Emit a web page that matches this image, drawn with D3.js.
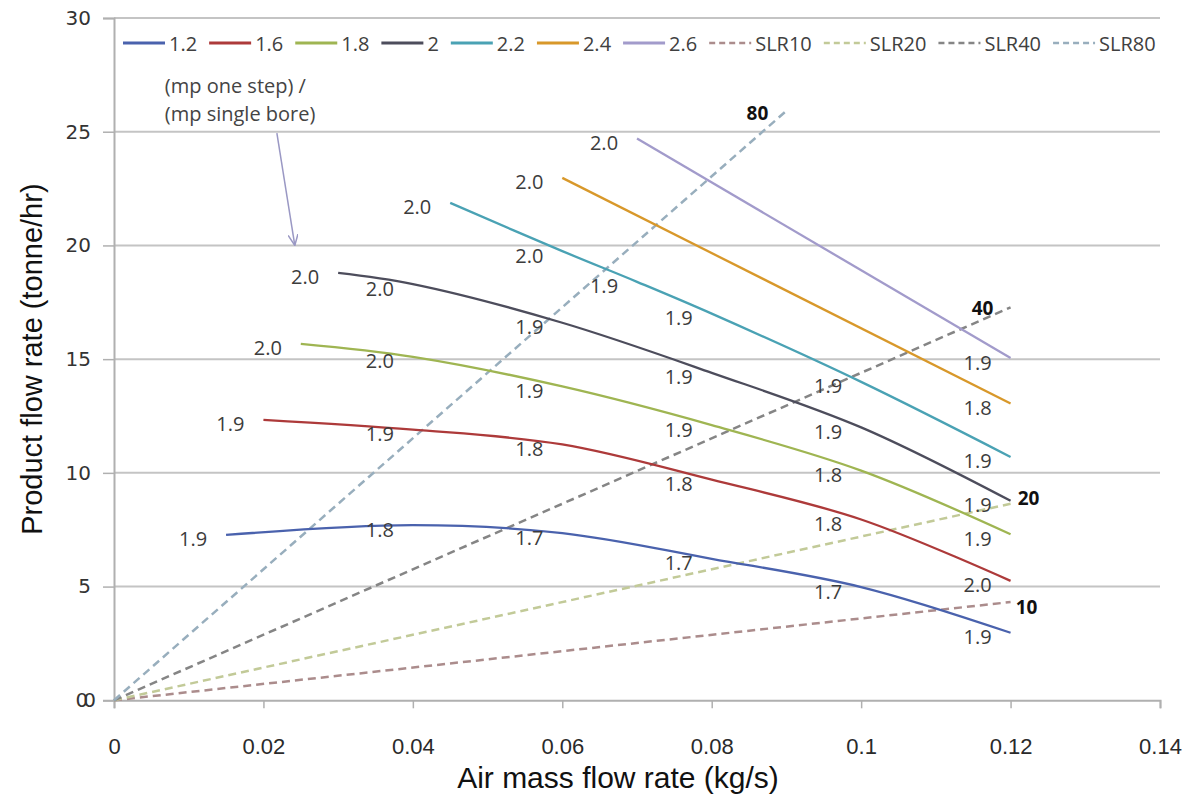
<!DOCTYPE html>
<html>
<head>
<meta charset="utf-8">
<script src="https://cdn.jsdelivr.net/npm/d3@7"></script>
<style>
  body { margin: 0; background: #fff; }
  svg { display: block; }
</style>
</head>
<body>
<div id="chart"></div>
<script>
// Air flow (kg/s), product flow (tonne/hr) and data labels for each ratio curve
const air12 = [0.015, 0.04, 0.06, 0.08, 0.1, 0.12];
const prod12 = [7.27, 7.7, 7.35, 6.22, 4.98, 2.97];
const lab12 = ['1.9', '1.8', '1.7', '1.7', '1.7', '1.9'];

const air16 = [0.02, 0.04, 0.06, 0.08, 0.1, 0.12];
const prod16 = [12.33, 11.9, 11.25, 9.7, 7.95, 5.25];
const lab16 = ['1.9', '1.9', '1.8', '1.8', '1.8', '2.0'];

const air18 = [0.025, 0.04, 0.06, 0.08, 0.1, 0.12];
const prod18 = [15.67, 15.1, 13.8, 12.1, 10.1, 7.3];
const lab18 = ['2.0', '2.0', '1.9', '1.9', '1.8', '1.9'];

const air20 = [0.03, 0.04, 0.06, 0.08, 0.1, 0.12];
const prod20 = [18.79, 18.3, 16.6, 14.4, 12.0, 8.77];
const lab20 = ['2.0', '2.0', '1.9', '1.9', '1.9', '1.9'];

const air22 = [0.045, 0.06, 0.07, 0.08, 0.1, 0.12];
const prod22 = [21.87, 19.75, 18.4, 17.0, 14.0, 10.7];
const lab22 = ['2.0', '2.0', '1.9', '1.9', '1.9', '1.9'];

const air24 = [0.06, 0.12];
const prod24 = [22.97, 13.05];
const lab24 = ['2.0', '1.8'];

const air26 = [0.07, 0.12];
const prod26 = [24.7, 15.05];
const lab26 = ['2.0', '1.9'];

// solids loading ratio lines (from origin)
const slrNames = ['SLR10', 'SLR20', 'SLR40', 'SLR80'];
const slrTags = ['10', '20', '40', '80'];
const slrAir = [[0, 0.12], [0, 0.12], [0, 0.12], [0, 0.09]];
const slrProd = [[0, 4.32], [0, 8.64], [0, 17.28], [0, 25.92]];

const xTicks = [0, 0.02, 0.04, 0.06, 0.08, 0.1, 0.12, 0.14];
const yTicks = [0, 5, 10, 15, 20, 25, 30];

const curves = [
  { name: '1.2', x: air12, y: prod12, lab: lab12, color: '#4a62ad' },
  { name: '1.6', x: air16, y: prod16, lab: lab16, color: '#ad3a3a' },
  { name: '1.8', x: air18, y: prod18, lab: lab18, color: '#9fb552' },
  { name: '2', x: air20, y: prod20, lab: lab20, color: '#4d4d5c' },
  { name: '2.2', x: air22, y: prod22, lab: lab22, color: '#4aa2b4' },
  { name: '2.4', x: air24, y: prod24, lab: lab24, color: '#d8982a' },
  { name: '2.6', x: air26, y: prod26, lab: lab26, color: '#a29bcb' }
];
const slrColors = ['#ab8c8c', '#c2ca98', '#858585', '#98aebd'];
const slrTagOffset = [[16, 5], [18, -6], [-28, 1], [-29, 2]];

const width = 1190, height = 801;
const svg = d3.select('#chart').append('svg')
  .attr('width', width).attr('height', height);

const x = d3.scaleLinear().domain([0, 0.14]).range([114, 1160]);
const y = d3.scaleLinear().domain([0, 30]).range([700.3, 18]);

// gridlines
svg.append('g')
  .selectAll('line')
  .data(yTicks.filter(d => d > 0))
  .enter().append('line')
  .attr('x1', x(0)).attr('x2', x(0.14))
  .attr('y1', d => y(d)).attr('y2', d => y(d))
  .style('stroke', '#c4c4c4').style('stroke-width', 2);

// y axis
const yAxis = svg.append('g')
  .attr('transform', `translate(${x(0)},0)`)
  .call(d3.axisLeft(y).tickValues(yTicks).tickSize(11).tickPadding(12)
    .tickFormat(d => d === 0 ? '00' : d));
yAxis.select('.domain').style('stroke', '#b0b0b0').style('stroke-width', 2);
yAxis.selectAll('.tick line').style('stroke', '#b0b0b0').style('stroke-width', 1.5);
yAxis.selectAll('.tick text')
  .style('font-family', '"DejaVu Sans", Verdana, sans-serif')
  .style('font-size', '20px').style('fill', '#333')
  .style('letter-spacing', d => d === 0 ? '-5px' : '0px');

// x axis
const xAxis = svg.append('g')
  .attr('transform', `translate(0,${y(0)})`)
  .call(d3.axisBottom(x).tickValues(xTicks).tickSize(8).tickPadding(30)
    .tickFormat(d => d));
xAxis.select('.domain').style('stroke', '#b0b0b0').style('stroke-width', 2);
xAxis.selectAll('.tick line').style('stroke', '#b0b0b0').style('stroke-width', 1.5);
xAxis.selectAll('.tick text')
  .style('font-family', '"Liberation Sans Narrow", "Arial Narrow", sans-serif')
  .style('font-size', '22px').style('fill', '#2a2a2a');

// axis titles
svg.append('text')
  .attr('transform', `translate(32,${(y(0) + y(30)) / 2}) rotate(-90)`)
  .attr('text-anchor', 'middle').attr('dominant-baseline', 'central')
  .style('font-family', '"Liberation Sans Narrow", "Arial Narrow", sans-serif')
  .style('font-size', '29px').style('fill', '#111')
  .text('Product flow rate (tonne/hr)');

svg.append('text')
  .attr('x', 618).attr('y', 777)
  .attr('text-anchor', 'middle').attr('dominant-baseline', 'central')
  .style('font-family', '"Liberation Sans Narrow", "Arial Narrow", sans-serif')
  .style('font-size', '30px').style('fill', '#111')
  .text('Air mass flow rate (kg/s)');

// SLR dashed lines
const straight = d3.line().x(d => x(d[0])).y(d => y(d[1]));
slrNames.forEach((name, i) => {
  const pts = d3.zip(slrAir[i], slrProd[i]);
  svg.append('path')
    .attr('d', straight(pts))
    .style('fill', 'none')
    .style('stroke', slrColors[i])
    .style('stroke-width', 2.5)
    .style('stroke-dasharray', '8,5');
  const end = pts[pts.length - 1];
  svg.append('text')
    .attr('x', x(end[0]) + slrTagOffset[i][0])
    .attr('y', y(end[1]) + slrTagOffset[i][1])
    .attr('text-anchor', 'middle').attr('dominant-baseline', 'central')
    .style('font-family', '"Open Sans", sans-serif')
    .style('font-weight', 'bold').style('font-size', '19px').style('fill', '#111')
    .text(slrTags[i]);
});

// ratio curves
const smooth = d3.line().x(d => x(d[0])).y(d => y(d[1])).curve(d3.curveCatmullRom.alpha(0.5));
curves.forEach(c => {
  const pts = d3.zip(c.x, c.y);
  svg.append('path')
    .attr('d', smooth(pts))
    .style('fill', 'none')
    .style('stroke', c.color)
    .style('stroke-width', 2.3);
});

// data labels (drawn after lines so they sit on top)
curves.forEach(c => {
  svg.append('g')
    .selectAll('text')
    .data(d3.zip(c.x, c.y, c.lab))
    .enter().append('text')
    .attr('x', d => x(d[0]) - 33)
    .attr('y', d => y(d[1]) + 4)
    .attr('text-anchor', 'middle').attr('dominant-baseline', 'central')
    .style('font-family', '"Open Sans", sans-serif')
    .style('font-size', '20px').style('fill', '#3c3c3c')
    .text(d => d[2]);
});

// annotation with arrow
svg.append('defs').append('marker')
  .attr('id', 'arrow').attr('viewBox', '0 0 12 10')
  .attr('refX', 11).attr('refY', 5)
  .attr('markerWidth', 12).attr('markerHeight', 10)
  .attr('markerUnits', 'userSpaceOnUse')
  .attr('orient', 'auto')
  .append('path').attr('d', 'M0,0 L11,5 L0,10')
  .style('fill', 'none').style('stroke', '#9a98c4').style('stroke-width', 1.5);

svg.append('line')
  .attr('x1', x(0.0218)).attr('y1', y(24.94))
  .attr('x2', x(0.0242)).attr('y2', y(20.0))
  .style('stroke', '#9a98c4').style('stroke-width', 1.5)
  .attr('marker-end', 'url(#arrow)');

const note = svg.append('text')
  .style('font-family', '"Open Sans", sans-serif')
  .style('font-size', '20px').style('fill', '#444');
note.append('tspan').attr('x', x(0.0068)).attr('y', y(27.0) + 7).text('(mp one step) /');
note.append('tspan').attr('x', x(0.0068)).attr('y', y(25.8) + 7).text('(mp single bore)');

// legend
const legendItems = curves.map(c => ({ name: c.name, color: c.color, dash: null }))
  .concat(slrNames.map((n, i) => ({ name: n, color: slrColors[i], dash: '6,4' })));
let lx = 123;
const ly = 43;
const legend = svg.append('g');
legendItems.forEach(item => {
  legend.append('line')
    .attr('x1', lx).attr('x2', lx + 42)
    .attr('y1', ly).attr('y2', ly)
    .style('stroke', item.color)
    .style('stroke-width', item.dash ? 2.5 : 3)
    .style('stroke-dasharray', item.dash);
  const t = legend.append('text')
    .attr('x', lx + 46).attr('y', ly)
    .attr('dominant-baseline', 'central')
    .style('font-family', '"Open Sans", sans-serif')
    .style('font-size', '20px').style('fill', '#404040')
    .text(item.name);
  lx += 46 + t.node().getComputedTextLength() + 12;
});
</script>
</body>
</html>
